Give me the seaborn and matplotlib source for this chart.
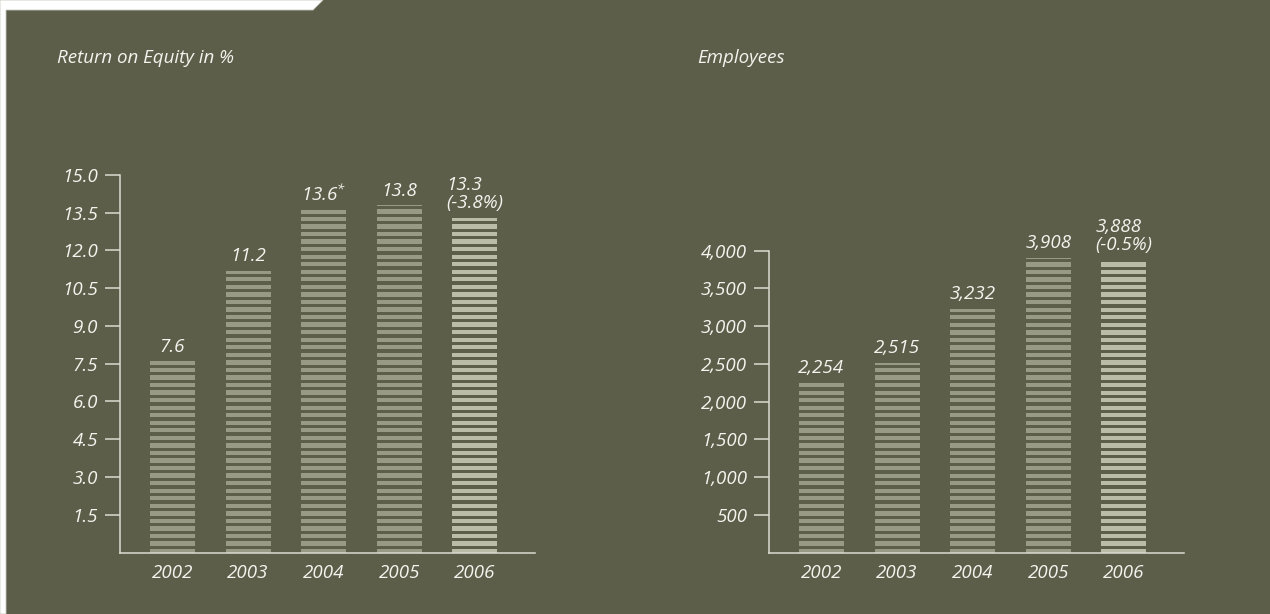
import matplotlib
matplotlib.use("Agg")
import matplotlib.pyplot as plt
import seaborn as sns
import pandas as pd
from matplotlib.patches import Polygon
from matplotlib.ticker import FuncFormatter

# ---- data -------------------------------------------------------------
years = ["2002", "2003", "2004", "2005", "2006"]

roe_values = [7.6, 11.2, 13.6, 13.8, 13.3]
roe_labels = ["7.6", "11.2", "13.6$^{*}$", "13.8", "13.3\n(-3.8%)"]
roe_ticks = [1.5, 3.0, 4.5, 6.0, 7.5, 9.0, 10.5, 12.0, 13.5, 15.0]

employee_values = [2254, 2515, 3232, 3908, 3888]
employee_labels = ["2,254", "2,515", "3,232", "3,908", "3,888\n(-0.5%)"]
employee_ticks = [500, 1000, 1500, 2000, 2500, 3000, 3500, 4000]

# ---- style ------------------------------------------------------------
BG = "#5d5e4a"
BAR = "#999a85"
BAR_LATEST = "#bbbca8"
LINE = "#dcdcd0"
TEXT = "#f4f4ee"
FS = 13.5

sns.set_style("ticks")
plt.rcParams["font.family"] = ["Open Sans", "DejaVu Sans"]
plt.rcParams["font.style"] = "italic"
plt.rcParams["mathtext.fontset"] = "custom"
plt.rcParams["mathtext.rm"] = "Open Sans:italic"
plt.rcParams["mathtext.it"] = "Open Sans:italic"
plt.rcParams["mathtext.default"] = "rm"

W, H = 1270, 614
fig = plt.figure(figsize=(W / 100, H / 100), dpi=100, facecolor=BG)

# white page margin with the slanted tab at the top left
tab_px = [(0, 0), (323, 0), (313, 10), (6, 10), (6, H), (0, H)]
fig.patches.append(Polygon([(x / W, 1 - y / H) for x, y in tab_px], closed=True,
                           transform=fig.transFigure, facecolor="white",
                           edgecolor="#c8c8c0", lw=0.6, zorder=0))


def draw_panel(ax, values, labels, ticks, ymax, stripe, fmt):
    df = pd.DataFrame({"year": years, "value": values})
    palette = [BAR] * (len(years) - 1) + [BAR_LATEST]
    sns.barplot(data=df, x="year", y="value", hue="year", palette=palette,
                legend=False, width=0.595, saturation=1, errorbar=None,
                edgecolor="none", linewidth=0, ax=ax, zorder=1)

    # horizontal gaps that turn the bars into stripes
    k = 0
    while k * stripe < ymax:
        ax.axhspan(k * stripe + 0.463 * stripe, k * stripe + 0.893 * stripe,
                   color=BG, lw=0, zorder=1.5)
        k += 1

    ax.set_facecolor(BG)
    ax.set_xlim(-0.694, 4.794)
    ax.set_ylim(0, ymax)
    ax.set_yticks(ticks)
    ax.yaxis.set_major_formatter(FuncFormatter(fmt))
    ax.set_xlabel("")
    ax.set_ylabel("")

    for side in ("top", "right"):
        ax.spines[side].set_visible(False)
    for side in ("left", "bottom"):
        ax.spines[side].set_color(LINE)
        ax.spines[side].set_linewidth(1.1)
        ax.spines[side].set_zorder(2.5)
    ax.spines["left"].set_bounds(0, ticks[-1])

    ax.tick_params(axis="y", length=10.8, width=1.1, color=LINE, pad=5,
                   labelsize=FS, labelcolor=TEXT)
    ax.tick_params(axis="x", length=0, pad=8, labelsize=FS, labelcolor=TEXT)

    for i, (v, lab) in enumerate(zip(values, labels)):
        ax.annotate(lab, xy=(i, v), xytext=(0, 4), textcoords="offset points",
                    ha="center", va="bottom", multialignment="left",
                    linespacing=1.0, fontsize=FS, color=TEXT, zorder=3)


bottom = (H - 552.5) / H
height = (552.5 - 100) / H

ax1 = fig.add_axes([120 / W, bottom, 415 / W, height])
draw_panel(ax1, roe_values, roe_labels, roe_ticks, 452.5 / 25.17, 0.3,
           lambda v, p: f"{v:.1f}")

ax2 = fig.add_axes([769 / W, bottom, 415 / W, height])
draw_panel(ax2, employee_values, employee_labels, employee_ticks,
           452.5 / 0.07545, 100, lambda v, p: f"{v:,.0f}")

fig.text(57 / W, 1 - 62.7 / H, "Return on Equity in %", ha="left",
         va="baseline", fontsize=FS, color=TEXT)
fig.text(697 / W, 1 - 62.7 / H, "Employees", ha="left",
         va="baseline", fontsize=FS, color=TEXT)

fig.savefig("out.png", dpi=100, facecolor=BG)
